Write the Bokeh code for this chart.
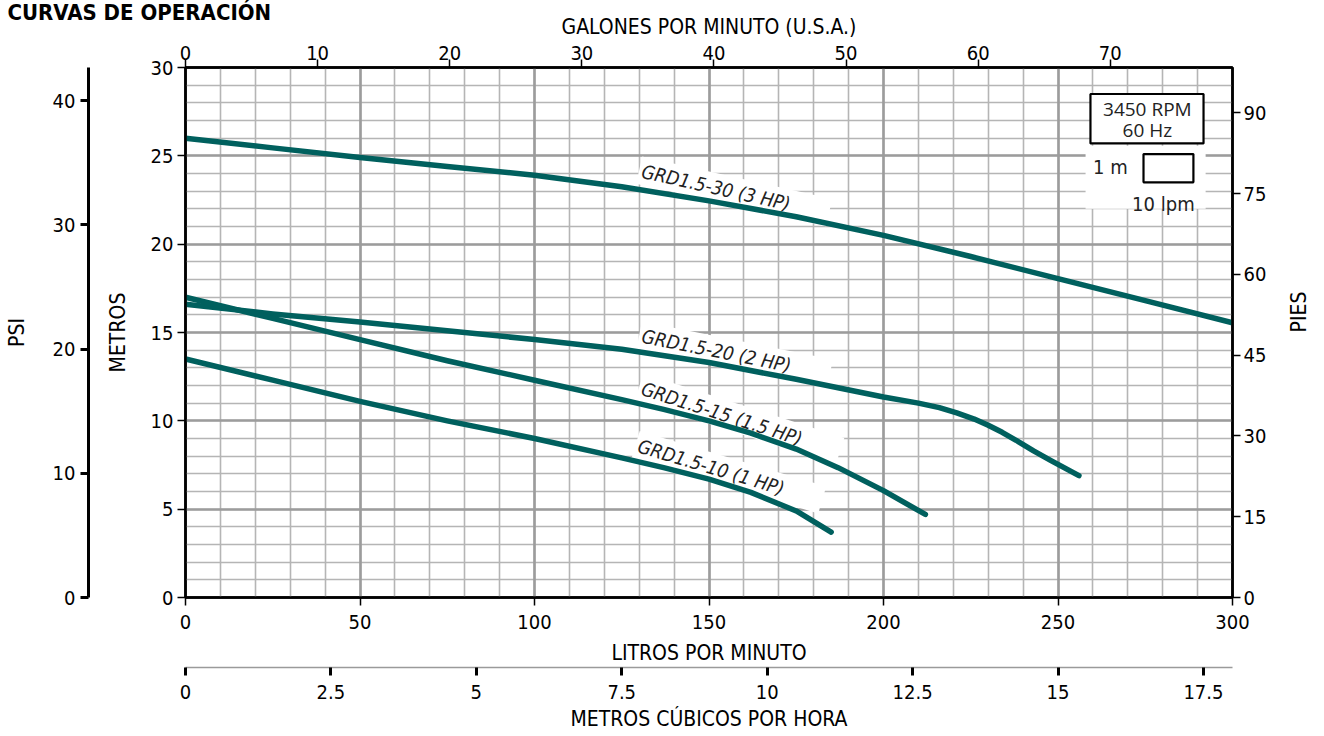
import math
import numpy as np
from bokeh.plotting import figure
from bokeh.models import (LinearAxis, Range1d, FixedTicker, SingleIntervalTicker, Label,
                          BoxAnnotation, Grid, NumeralTickFormatter)
from bokeh.embed import file_html
from bokeh.resources import INLINE

# ---------------- data ----------------
lpm_30 = [0, 25, 50, 75, 100, 125, 150, 175, 200, 225, 250, 275, 300]
m_30 = [26.0, 25.45, 24.9, 24.4, 23.9, 23.25, 22.45, 21.55, 20.5, 19.3, 18.05, 16.8, 15.55]

lpm_20 = [0, 25, 50, 75, 100, 125, 150, 175, 200, 210, 216, 221, 226, 230, 234, 238, 243, 248, 256]
m_20 = [16.6, 16.05, 15.6, 15.1, 14.6, 14.05, 13.3, 12.35, 11.35, 11.0, 10.75, 10.45, 10.1,
        9.75, 9.35, 8.9, 8.3, 7.75, 6.9]

lpm_15 = [0, 25, 50, 75, 100, 125, 137, 150, 162, 175, 187, 200, 212]
m_15 = [17.0, 15.8, 14.6, 13.4, 12.3, 11.2, 10.65, 10.0, 9.3, 8.4, 7.35, 6.05, 4.7]

lpm_10 = [0, 25, 50, 75, 100, 125, 137, 150, 162, 175, 185]
m_10 = [13.5, 12.3, 11.1, 10.0, 9.0, 7.9, 7.35, 6.7, 5.95, 4.9, 3.7]

curve_names = ["GRD1.5-30 (3 HP)", "GRD1.5-20 (2 HP)", "GRD1.5-15 (1.5 HP)", "GRD1.5-10 (1 HP)"]

lpm_ticks = [0, 50, 100, 150, 200, 250, 300]
m_ticks = [0, 5, 10, 15, 20, 25, 30]
gpm_ticks = [0, 10, 20, 30, 40, 50, 60, 70]
psi_ticks = [0, 10, 20, 30, 40]
ft_ticks = [0, 15, 30, 45, 60, 75, 90]
m3h_ticks = [0, 2.5, 5, 7.5, 10, 12.5, 15, 17.5]

LPM_PER_GPM = 3.78541
M_PER_PSI = 0.70307
FT_PER_M = 3.28084

# ---------------- style ----------------
FONT = "DejaVu Sans Condensed, Roboto"
TEAL = "#00605e"
TICK_FS = "20px"
AXL_FS = "21px"

p = figure(frame_width=1047, frame_height=530,
           min_border_left=185, min_border_right=92, min_border_top=67, min_border_bottom=139,
           x_range=Range1d(0, 300), y_range=Range1d(0, 30),
           output_backend="svg", toolbar_location=None)
p.background_fill_color = "white"
p.border_fill_color = "white"
p.outline_line_color = "black"
p.outline_line_width = 2.5
p.outline_line_alpha = 1.0

# title: outermost item of the top panel, pulled down with a negative standoff
p.title_location = "above"
p.title.text = "CURVAS DE OPERACIÓN"
p.title.align = "left"
p.title.offset = -178
p.title.vertical_align = "bottom"
p.title.standoff = -26
p.title.text_font = FONT
p.title.text_font_size = "22px"
p.title.text_font_style = "bold"
p.title.text_color = "black"

p.extra_x_ranges = {"gpm": Range1d(0, 300 / LPM_PER_GPM), "m3h": Range1d(0, 18)}
p.extra_y_ranges = {"psi": Range1d(0, 30 / M_PER_PSI), "ft": Range1d(0, 30 * FT_PER_M)}

# grids
p.xgrid.ticker = SingleIntervalTicker(interval=10)
p.ygrid.ticker = SingleIntervalTicker(interval=1)
for g in (p.xgrid[0], p.ygrid[0]):
    g.grid_line_color = "#b5b5b5"
    g.grid_line_width = 1.6
gx = Grid(dimension=0, ticker=SingleIntervalTicker(interval=50), grid_line_color="#9c9c9c", grid_line_width=2.6)
gy = Grid(dimension=1, ticker=SingleIntervalTicker(interval=5), grid_line_color="#9c9c9c", grid_line_width=2.6)
p.add_layout(gx)
p.add_layout(gy)


def style_axis(ax, ticks, label, tick_w=1.5, line_w=2.5, line_color="black"):
    ax.ticker = FixedTicker(ticks=ticks)
    ax.axis_label = label
    ax.axis_label_text_font = FONT
    ax.axis_label_text_font_size = AXL_FS
    ax.axis_label_text_font_style = "normal"
    ax.axis_label_text_color = "black"
    ax.major_label_text_font = FONT
    ax.major_label_text_font_size = TICK_FS
    ax.major_label_text_color = "black"
    ax.major_tick_in = 0
    ax.major_tick_out = 8
    ax.major_tick_line_width = tick_w
    ax.major_tick_line_color = "black"
    ax.minor_tick_line_color = None
    ax.axis_line_color = line_color
    ax.axis_line_width = line_w


# bottom: litros por minuto
xb = p.xaxis[0]
style_axis(xb, lpm_ticks, "LITROS POR MINUTO")
xb.major_label_standoff = 9
xb.axis_label_standoff = 9

# left: metros
yl = p.yaxis[0]
style_axis(yl, m_ticks, "METROS")
yl.major_label_standoff = 4
yl.axis_label_standoff = 18

# spacer between METROS and PSI axes (blank label with a standoff)
spacer = LinearAxis(y_range_name="psi", ticker=FixedTicker(ticks=[]), axis_line_color=None,
                    major_tick_line_color=None, minor_tick_line_color=None,
                    major_tick_out=0, major_tick_in=0, major_label_standoff=0,
                    axis_label=" ", axis_label_text_font_size="1px", axis_label_standoff=10)
p.add_layout(spacer, "left")

# PSI
ypsi = LinearAxis(y_range_name="psi")
style_axis(ypsi, psi_ticks, "PSI", tick_w=3, line_w=3)
ypsi.major_label_standoff = 5
ypsi.axis_label_standoff = 21
p.add_layout(ypsi, "left")

# top: gpm
xtop = LinearAxis(x_range_name="gpm")
style_axis(xtop, gpm_ticks, "GALONES POR MINUTO (U.S.A.)", line_w=2.5)
xtop.major_label_standoff = 0
xtop.axis_label_standoff = 4
p.add_layout(xtop, "above")

# right: pies
yr = LinearAxis(y_range_name="ft")
style_axis(yr, ft_ticks, "PIES", line_w=2.5)
yr.major_label_standoff = 3
yr.axis_label_standoff = 30
yr.axis_label_orientation = math.pi / 2
p.add_layout(yr, "right")

# bottom 2: m3/h
xm3 = LinearAxis(x_range_name="m3h")
style_axis(xm3, m3h_ticks, "METROS CÚBICOS POR HORA", tick_w=3, line_w=1.5, line_color="#9a9a9a")
xm3.formatter = NumeralTickFormatter(format="0.[0]")
xm3.major_label_standoff = 9
xm3.axis_label_standoff = 5
p.add_layout(xm3, "below")

# ---------------- curve labels (under the curves) ----------------
curves = [(lpm_30, m_30), (lpm_20, m_20), (lpm_15, m_15), (lpm_10, m_10)]
label_at = [130, 130, 130, 129]          # lpm where each label starts
label_lift = [1.1, 0.95, 0.95, 0.95]     # metres above the curve
label_angle = [-0.22, -0.197, -0.31, -0.29]
for (xs, ys), name, xa, lift, ang in zip(curves, curve_names, label_at, label_lift, label_angle):
    ya = float(np.interp(xa, xs, ys)) + lift
    p.add_layout(Label(x=xa, y=ya, text=name, angle=ang, text_font=FONT, text_font_style="italic",
                       text_font_size="19px", text_color="#222222", text_align="left",
                       text_baseline="alphabetic", background_fill_color="white",
                       padding=(3, 40, 3, 3), level="underlay"))

# ---------------- curves ----------------
for xs, ys in curves:
    p.line(xs, ys, line_color=TEAL, line_width=5.5, line_cap="round", line_join="round")

# ---------------- key box ----------------
p.add_layout(BoxAnnotation(left=257.9, right=292.3, bottom=22.0, top=25.57, fill_color="white",
                           fill_alpha=1, line_color=None, level="underlay"))
p.add_layout(BoxAnnotation(left=259.3, right=291.7, bottom=25.7, top=28.5, fill_color="white",
                           fill_alpha=1, line_color="black", line_alpha=1, line_width=2.2))
p.add_layout(BoxAnnotation(left=274.5, right=288.8, bottom=23.5, top=25.1, fill_color="white",
                           fill_alpha=1, line_color="black", line_alpha=1, line_width=2.2))
p.add_layout(Label(x=275.6, y=27.65, text="3450 RPM", text_font="Open Sans", text_font_size="19px",
                   text_align="center", text_baseline="middle", text_color="#222222"))
p.add_layout(Label(x=275.6, y=26.45, text="60 Hz", text_font="Open Sans", text_font_size="19px",
                   text_align="center", text_baseline="middle", text_color="#222222"))
p.add_layout(Label(x=265.0, y=24.35, text="1 m", text_font=FONT, text_font_size="20px",
                   text_align="center", text_baseline="middle", text_color="#222222"))
p.add_layout(Label(x=280.2, y=22.25, text="10 lpm", text_font=FONT, text_font_size="20px",
                   text_align="center", text_baseline="middle", text_color="#222222"))

open("out.html", "w").write(file_html(p, INLINE))
